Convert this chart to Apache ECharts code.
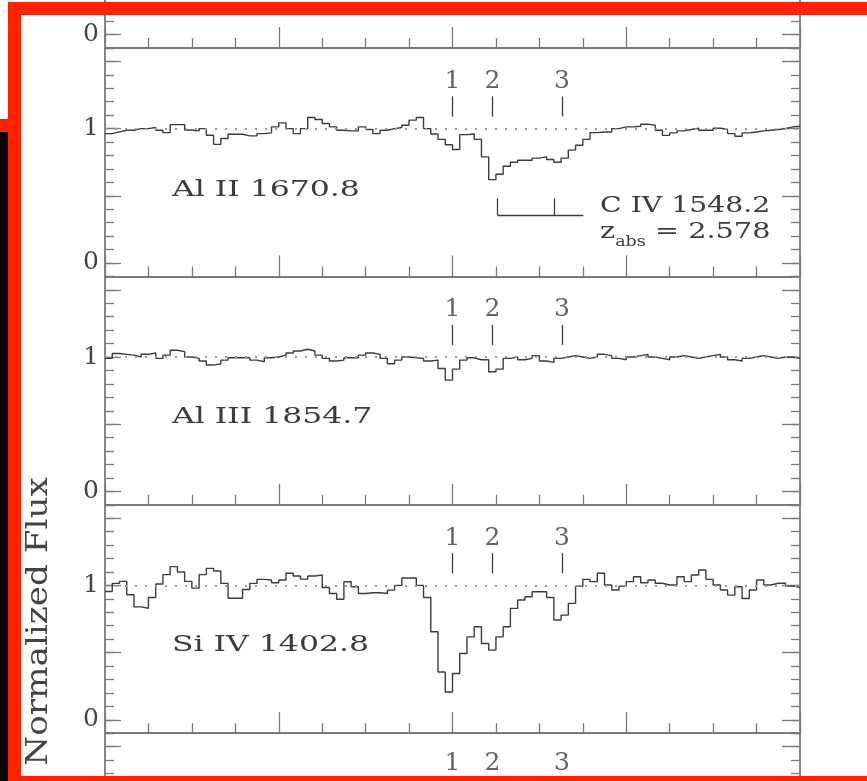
<!DOCTYPE html>
<html><head><meta charset="utf-8">
<script src="https://cdn.jsdelivr.net/npm/echarts@6.0.0/dist/echarts.min.js"></script>
<style>html,body{margin:0;padding:0;background:#fff;}#c{width:867px;height:781px;}</style>
</head><body><div id="c"></div>
<script>
// ---- data ----
const velocityRange = [-400, 400];          // km/s, x axis
const fluxRange = [-0.1, 1.6];              // normalized flux, y axis
const panelTitles = ['Al II 1670.8', 'Al III 1854.7', 'Si IV 1402.8'];
const componentNames = ['1', '2', '3'];
const componentVelocities = [0, 46, 126];
const yTickLabels = [0, 1];
const yMajorTicks = [0, 0.5, 1, 1.5];
const civTickVelocities = [51.6, 117.2];
const civBarEndVelocity = 150.6;
const civLabel = 'C IV 1548.2';
const zabsValue = '2.578';

const alIIFlux = [
0.963,0.976,0.988,0.988,1.0,1.0,1.008,0.988,0.97,1.03,
1.03,0.99,0.983,1.0,0.951,0.883,0.926,0.958,0.958,0.946,
0.946,0.963,0.968,1.013,1.043,1.0,0.963,1.0,1.083,1.068,
1.038,1.013,0.988,0.983,0.983,1.013,0.993,0.963,0.988,1.0,
1.008,1.025,1.063,1.083,1.0,0.96,0.92,0.88,0.845,0.955,
0.96,0.92,0.79,0.62,0.66,0.72,0.75,0.765,0.765,0.78,
0.79,0.77,0.75,0.78,0.84,0.876,0.92,0.97,0.975,0.975,
1.0,1.013,1.013,1.018,1.033,1.025,0.988,0.95,0.968,0.983,
0.993,1.003,0.988,0.988,1.003,0.993,0.963,0.943,0.968,0.975,
0.983,0.988,0.993,1.0,1.013,1.018];
const alIIIFlux = [
0.99,1.026,1.02,1.014,1.0,1.02,1.03,0.99,1.014,1.05,
1.04,1.0,0.99,0.97,0.94,0.95,0.977,0.994,0.994,0.994,
0.977,0.965,0.994,1.0,1.014,1.03,1.045,1.058,1.045,1.014,
0.99,0.97,0.977,0.994,0.994,1.014,1.03,1.02,0.99,0.95,
0.977,1.0,0.994,0.99,0.97,0.977,0.915,0.828,0.91,0.977,
0.994,0.98,0.98,0.89,0.91,0.99,1.0,0.98,0.99,1.01,
0.97,0.96,0.99,1.0,1.01,1.0,0.99,1.0,1.02,1.01,
0.99,0.98,1.0,1.01,1.02,1.0,0.99,0.98,1.0,1.01,
1.0,0.99,1.0,1.01,1.02,1.0,0.98,0.97,0.99,1.0,
1.01,1.0,0.99,1.0,1.0,0.99];
const siIVFlux = [
0.955,1.015,1.03,0.93,0.84,0.83,0.91,1.01,1.08,1.14,
1.10,1.03,0.98,1.08,1.127,1.107,1.015,0.905,0.905,0.97,
1.015,1.045,1.04,1.02,1.04,1.09,1.07,1.047,1.07,1.077,
0.985,0.94,0.897,1.027,0.99,0.94,0.945,0.945,0.94,0.965,
1.0,1.055,1.055,1.0,0.91,0.655,0.356,0.207,0.344,0.493,
0.617,0.692,0.568,0.518,0.617,0.692,0.829,0.891,0.916,0.953,
0.953,0.91,0.742,0.779,0.866,0.995,1.045,1.028,1.09,1.003,
0.966,0.995,1.028,1.065,1.02,1.04,1.016,1.003,1.003,1.065,
1.028,1.078,1.115,1.045,1.003,0.966,0.928,0.99,0.903,0.966,
1.04,1.003,1.016,1.016,0.995,0.985];
const panelFlux = [null, alIIFlux, alIIIFlux, siIVFlux, null];

// ---- layout / style ----
const panelTops = [-180.4, 48, 276.4, 504.8, 733.2];
const panelHeight = 228.4;
const titleLevels = [null, 0.541, 0.554, 0.555, null];
const compLabelLevels = [null, 1.352, 1.352, 1.352, 1.371];
const AXIS = '#7a7a7a', INK = '#3c3c3c', FONT = 'DejaVu Serif';

function stepData(flux) {
  const dv = (velocityRange[1] - velocityRange[0]) / flux.length;
  const pts = flux.map((f, k) => [velocityRange[0] + k * dv, f]);
  pts.push([velocityRange[1], flux[flux.length - 1]]);
  return pts;
}

const grids = [], xAxes = [], yAxes = [], series = [];
const tickStyle = {color: AXIS, width: 1.3};
panelTops.forEach((top, g) => {
  grids.push({left: 105, width: 695, top: top, height: panelHeight,
    containLabel: false, outerBoundsMode: 'none'});
  xAxes.push({type: 'value', gridIndex: g, min: velocityRange[0], max: velocityRange[1], interval: 200,
    position: 'bottom',
    axisLine: {show: true, onZero: false, lineStyle: {color: AXIS, width: 1.8}},
    axisTick: {show: true, inside: true, length: 21, lineStyle: tickStyle},
    minorTick: {show: true, splitNumber: 4, length: 10, lineStyle: tickStyle},
    axisLabel: {show: false}, splitLine: {show: false}, minorSplitLine: {show: false}});
  const base = {type: 'value', gridIndex: g, min: fluxRange[0], max: fluxRange[1], splitLine: {show: false}};
  yAxes.push(Object.assign({}, base, {position: 'left', interval: 0.1,
    axisLine: {show: true, onZero: false, lineStyle: {color: AXIS, width: 1.8}},
    axisTick: {show: true, inside: true, length: 9, lineStyle: tickStyle}, axisLabel: {show: false}}));
  yAxes.push(Object.assign({}, base, {position: 'left',
    axisLine: {show: false, onZero: false},
    axisTick: {show: true, inside: true, length: 16, customValues: yMajorTicks, lineStyle: tickStyle},
    axisLabel: {show: true, customValues: yTickLabels, formatter: v => String(Math.round(v)),
      margin: 6, fontSize: 25, fontFamily: FONT, color: '#444'}}));
  yAxes.push(Object.assign({}, base, {position: 'right', interval: 0.1,
    axisLine: {show: true, onZero: false, lineStyle: {color: AXIS, width: 1.8}},
    axisTick: {show: true, inside: true, length: 9, lineStyle: tickStyle}, axisLabel: {show: false}}));
  yAxes.push(Object.assign({}, base, {position: 'right',
    axisLine: {show: false, onZero: false},
    axisTick: {show: true, inside: true, length: 18, customValues: yMajorTicks, lineStyle: tickStyle},
    axisLabel: {show: false}}));

  const flux = panelFlux[g];
  if (flux) {
    const markData = [];
    markData.push([{coord: [velocityRange[0], 1], lineStyle: {color: '#9a9a9a', width: 2, type: [2, 8]}},
                   {coord: [velocityRange[1], 1]}]);
    componentVelocities.forEach(v => {
      markData.push([{coord: [v, 1.09], lineStyle: {color: INK, width: 1.3, type: 'solid'}}, {coord: [v, 1.24]}]);
    });
    if (g === 1) {
      const barLow = 0.357, barHigh = 0.481;
      civTickVelocities.forEach(v => {
        markData.push([{coord: [v, barHigh], lineStyle: {color: INK, width: 1.3, type: 'solid'}}, {coord: [v, barLow]}]);
      });
      markData.push([{coord: [civTickVelocities[0], barLow], lineStyle: {color: INK, width: 1.3, type: 'solid'}},
                     {coord: [civBarEndVelocity, barLow]}]);
    }
    series.push({type: 'line', xAxisIndex: g, yAxisIndex: 4 * g, data: stepData(flux), step: 'end',
      symbol: 'none', silent: true, z: 3, lineStyle: {color: INK, width: 1.4},
      markLine: {silent: true, symbol: ['none', 'none'], label: {show: false}, data: markData}});
  }
  if (compLabelLevels[g] !== null) {
    series.push({type: 'scatter', xAxisIndex: g, yAxisIndex: 4 * g, symbolSize: 1,
      itemStyle: {color: 'rgba(0,0,0,0)'}, silent: true,
      data: componentVelocities.map((v, i) => ({value: [v, compLabelLevels[g]], name: componentNames[i]})),
      label: {show: true, position: 'inside', formatter: '{b}', fontSize: 25, fontFamily: FONT, color: INK}});
  }
});

const chart = echarts.init(document.getElementById('c'), null, {renderer: 'canvas'});
chart.setOption({backgroundColor: '#fff', animation: false,
  grid: grids, xAxis: xAxes, yAxis: yAxes, series: series});

function px(g, v, f) { return chart.convertToPixel({xAxisIndex: g, yAxisIndex: 4 * g}, [v, f]); }
const graphics = [];
[1, 2, 3].forEach(g => {
  const p = px(g, -323, titleLevels[g]);
  graphics.push({type: 'text', x: p[0], y: p[1], scaleX: 1.37, z: 50,
    style: {text: panelTitles[g - 1], fontSize: 23, fontFamily: FONT, fill: INK,
      align: 'left', verticalAlign: 'middle', textAlign: 'left', textVerticalAlign: 'middle'}});
});
let p = px(1, 169.8, 0.424);
graphics.push({type: 'text', x: p[0], y: p[1], scaleX: 1.23, z: 50,
  style: {text: civLabel, fontSize: 23, fontFamily: FONT, fill: INK,
    align: 'left', verticalAlign: 'middle', textAlign: 'left', textVerticalAlign: 'middle'}});
p = px(1, 169.8, 0.23);
graphics.push({type: 'text', x: p[0], y: p[1], scaleX: 1.25, z: 50,
  style: {text: '{z|z}{s|abs}{z| = ' + zabsValue + '}', fontSize: 23, fontFamily: FONT, fill: INK,
    align: 'left', verticalAlign: 'middle', textAlign: 'left', textVerticalAlign: 'middle',
    rich: {z: {fontSize: 23, fontFamily: FONT, fill: INK, lineHeight: 35, verticalAlign: 'middle'},
           s: {fontSize: 14, fontFamily: FONT, fill: INK, lineHeight: 14, verticalAlign: 'bottom'}}}});
graphics.push({type: 'text', x: 39.5, y: 621.5, rotation: Math.PI / 2, scaleX: 1.14, z: 50,
  style: {text: 'Normalized Flux', fontSize: 30, fontFamily: FONT, fill: '#444',
    align: 'center', verticalAlign: 'middle', textAlign: 'center', textVerticalAlign: 'middle'}});
// red / black frame of the photographed page
const RED = '#ff2400';
graphics.push({type: 'rect', z: 100, shape: {x: 8, y: 2, width: 859, height: 13}, style: {fill: RED}});
graphics.push({type: 'rect', z: 100, shape: {x: 8, y: 2, width: 13, height: 779}, style: {fill: RED}});
graphics.push({type: 'rect', z: 100, shape: {x: 0, y: 119, width: 21, height: 13}, style: {fill: RED}});
graphics.push({type: 'rect', z: 100, shape: {x: 0, y: 132, width: 8, height: 649}, style: {fill: '#0a0700'}});
graphics.push({type: 'rect', z: 100, shape: {x: 8, y: 776, width: 859, height: 5}, style: {fill: RED}});
chart.setOption({graphic: graphics});
</script></body></html>
